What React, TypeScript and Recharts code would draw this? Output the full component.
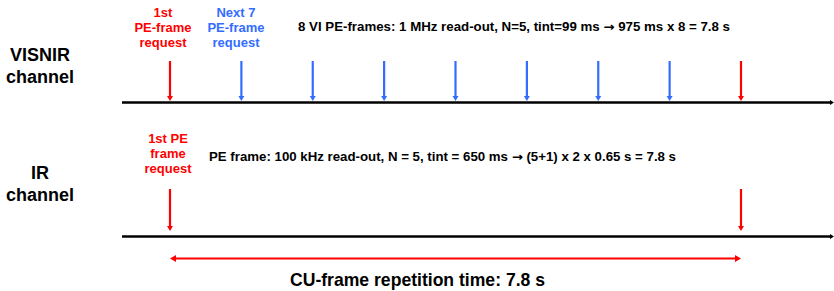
import React from "react";
import { ComposedChart, XAxis, YAxis, ReferenceLine, Customized } from "recharts";

// request times in seconds along one CU frame
const visnirRequestTimes = [0, 0.975, 1.95, 2.925, 3.9, 4.875, 5.85, 6.825, 7.8];
const visnirRequestKinds = ["first", "next", "next", "next", "next", "next", "next", "next", "first"];
const irRequestTimes = [0, 7.8];
const irRequestKinds = ["first", "first"];
const cycleStart = 0;
const cycleEnd = 7.8;
const timeDomain = [-2.3223, 9.0704];

const visnirNote = ["8 VI PE-frames: 1 MHz read-out, N=5, tint=99 ms ", "\u2192", " 975 ms x 8 = 7.8 s"];
const irNote = ["PE frame: 100 kHz read-out, N = 5, tint = 650 ms ", "\u2192", " (5+1) x 2 x 0.65 s = 7.8 s"];
const cycleLabel = "CU-frame repetition time: 7.8 s";

const W = 834;
const H = 291;
const RED = "#ff0000";
const BLUE = "#336dff";
const FONT = "'Liberation Sans', Arial, sans-serif";

const COLORS: Record<string, string> = { first: RED, next: BLUE };

function Arrow({ x1, y1, x2, y2, color, width, head, both }: any) {
  const ang = Math.atan2(y2 - y1, x2 - x1);
  const tip = (x: number, y: number, a: number) => {
    const bx = x - Math.cos(a) * head;
    const by = y - Math.sin(a) * head;
    const px = Math.sin(a) * head * 0.6;
    const py = -Math.cos(a) * head * 0.6;
    return `${x},${y} ${bx + px},${by + py} ${bx - px},${by - py}`;
  };
  const sh = head * 0.8;
  return (
    <g>
      <line
        x1={both ? x1 + Math.cos(ang) * sh : x1}
        y1={both ? y1 + Math.sin(ang) * sh : y1}
        x2={x2 - Math.cos(ang) * sh}
        y2={y2 - Math.sin(ang) * sh}
        stroke={color}
        strokeWidth={width}
      />
      <polygon points={tip(x2, y2, ang)} fill={color} />
      {both && <polygon points={tip(x1, y1, ang + Math.PI)} fill={color} />}
    </g>
  );
}

function Note({ x, y, len, parts }: any) {
  return (
    <text x={x} y={y} fontSize={12} fill="#000" fontFamily={FONT} fontWeight={700} textLength={len} lengthAdjust="spacingAndGlyphs">
      <tspan>{parts[0]}</tspan>
      <tspan fontFamily="'DejaVu Sans', sans-serif">{parts[1]}</tspan>
      <tspan>{parts[2]}</tspan>
    </text>
  );
}

function Labels() {
  const bold = { fontFamily: FONT, fontWeight: 700 } as const;
  return (
    <g>
      <text x={40} y={61} textAnchor="middle" fontSize={18} fill="#000" style={bold}>VISNIR</text>
      <text x={40} y={83} textAnchor="middle" fontSize={18} fill="#000" style={bold}>channel</text>
      <text x={40} y={179} textAnchor="middle" fontSize={18} fill="#000" style={bold}>IR</text>
      <text x={40} y={201} textAnchor="middle" fontSize={18} fill="#000" style={bold}>channel</text>

      <text textAnchor="middle" fontSize={13} fill={RED} style={bold}>
        <tspan x={163} y={17}>1st</tspan>
        <tspan x={163} y={32}>PE-frame</tspan>
        <tspan x={163} y={47}>request</tspan>
      </text>
      <text textAnchor="middle" fontSize={13} fill={BLUE} style={bold}>
        <tspan x={236} y={17}>Next 7</tspan>
        <tspan x={236} y={32}>PE-frame</tspan>
        <tspan x={236} y={47}>request</tspan>
      </text>
      <Note x={298} y={31} len={432} parts={visnirNote} />

      <text textAnchor="middle" fontSize={13} fill={RED} style={bold}>
        <tspan x={168} y={143}>1st PE</tspan>
        <tspan x={168} y={158}>frame</tspan>
        <tspan x={168} y={173}>request</tspan>
      </text>
      <Note x={209} y={161} len={467} parts={irNote} />

      <text x={290} y={286} fontSize={19} fill="#000" style={bold} textLength={255} lengthAdjust="spacingAndGlyphs">
        {cycleLabel}
      </text>
    </g>
  );
}

export default function App() {
  const data = visnirRequestTimes.map((t) => ({ t }));
  const left = timeDomain[0] + (122 / W) * (timeDomain[1] - timeDomain[0]);
  const right = timeDomain[1];
  return (
    <div style={{ position: "absolute", left: 0, top: 0, width: W, height: H, background: "#fff" }}>
      <ComposedChart width={W} height={H} data={data} margin={{ top: 0, right: 0, bottom: 0, left: 0 }}>
        <XAxis dataKey="t" type="number" domain={timeDomain} hide allowDataOverflow />
        <YAxis type="number" domain={[0, H]} reversed hide allowDataOverflow />

        {/* channel time axes */}
        <ReferenceLine
          segment={[{ x: left, y: 102.5 }, { x: right, y: 102.5 }]}
          shape={(p: any) => <Arrow x1={p.x1} y1={p.y1} x2={p.x2} y2={p.y2} color="#000" width={2.6} head={4} />}
        />
        <ReferenceLine
          segment={[{ x: left, y: 236.5 }, { x: right, y: 236.5 }]}
          shape={(p: any) => <Arrow x1={p.x1} y1={p.y1} x2={p.x2} y2={p.y2} color="#000" width={2.6} head={4} />}
        />

        {visnirRequestTimes.map((t, i) => (
          <ReferenceLine
            key={"v" + i}
            segment={[{ x: t, y: 61 }, { x: t, y: 101 }]}
            shape={(p: any) => (
              <Arrow x1={p.x1} y1={p.y1} x2={p.x2} y2={p.y2} color={COLORS[visnirRequestKinds[i]]} width={2.2} head={5} />
            )}
          />
        ))}

        {irRequestTimes.map((t, i) => (
          <ReferenceLine
            key={"ir" + i}
            segment={[{ x: t, y: 189 }, { x: t, y: 231 }]}
            shape={(p: any) => (
              <Arrow x1={p.x1} y1={p.y1} x2={p.x2} y2={p.y2} color={COLORS[irRequestKinds[i]]} width={2.2} head={5} />
            )}
          />
        ))}

        <ReferenceLine
          segment={[{ x: cycleStart, y: 258.5 }, { x: cycleEnd, y: 258.5 }]}
          shape={(p: any) => <Arrow x1={p.x1} y1={p.y1} x2={p.x2} y2={p.y2} color={RED} width={1.8} head={6} both />}
        />

        <Customized component={Labels} />
      </ComposedChart>
    </div>
  );
}
